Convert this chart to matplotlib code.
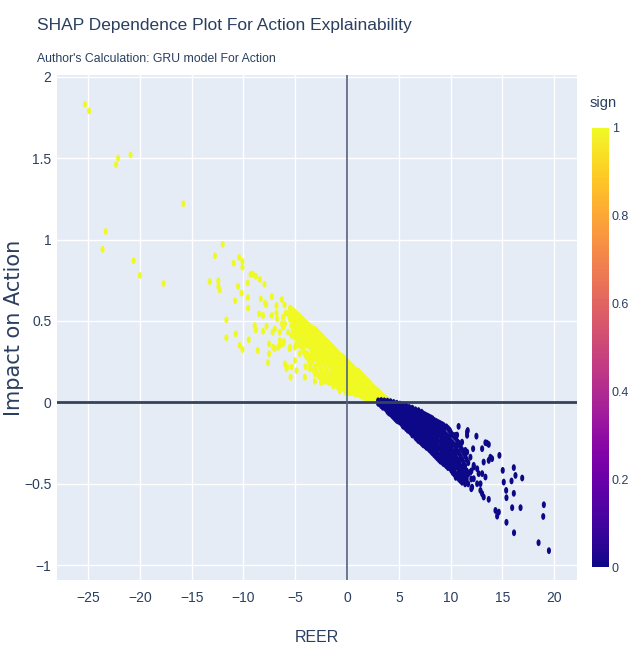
import numpy as np
import matplotlib.pyplot as plt
from matplotlib.path import Path
from matplotlib.transforms import Affine2D

plt.rcParams['font.family'] = ['Liberation Sans', 'DejaVu Sans']

# ---- data (REER, SHAP impact) ----
# sign = 1 (positive impact), far-left outliers
out_x = [-25.3, -24.9, -22.1, -22.3, -20.9, -15.8, -23.3, -23.6, -20.6, -20.0, -17.7]
out_y = [1.83, 1.79, 1.50, 1.46, 1.52, 1.22, 1.05, 0.94, 0.87, 0.78, 0.73]

# sign = 1, scattered middle cloud
mid_x = [-12.0, -12.75, -10.94, -10.41, -10.1, -10.1, -13.26, -12.42, -12.42, -12.29,
         -10.52, -10.19, -9.58, -10.81, -9.55, -9.32, -9.1, -8.81, -8.42, -9.58,
         -7.97, -8.33, -7.91, -7.81, -7.26, -6.81, -6.29, -6.03, -11.65, -8.49,
         -8.1, -7.26, -11.65, -10.75, -10.36, -10.1, -9.49, -8.91, -8.81, -8.1,
         -7.77, -7.19, -8.62, -7.52, -7.52, -7.62, -6.81, -6.75, -7.0, -6.49,
         -6.1, -6.29, -6.17, -5.9, -5.68, -6.0, -5.78, -5.45, -5.52, -5.35,
         -5.2, -5.03, -4.39, -4.55, -4.23, -3.9, -3.58, -4.07, -3.1, -2.61,
         -1.97, -1.16, -1.81, -1.0, -0.36, -4.55, -5.03, -5.35, -4.87, -5.84,
         -3.26, -2.78, -3.42, -3.9, -4.87, -4.39, -5.2, -5.68, -5.52, -5.03,
         -6.17, -6.65, -7.13, -6.49, -6.17, -6.0, -6.49, -6.97]
mid_y = [0.97, 0.90, 0.855, 0.89, 0.865, 0.83, 0.742, 0.747, 0.713, 0.691,
         0.713, 0.671, 0.644, 0.624, 0.579, 0.785, 0.788, 0.775, 0.755, 0.734,
         0.726, 0.636, 0.609, 0.599, 0.65, 0.595, 0.632, 0.599, 0.507, 0.544,
         0.534, 0.534, 0.397, 0.421, 0.35, 0.325, 0.385, 0.472, 0.446, 0.437,
         0.468, 0.431, 0.319, 0.36, 0.299, 0.244, 0.55, 0.514, 0.329, 0.35,
         0.374, 0.483, 0.462, 0.55, 0.544, 0.237, 0.217, 0.155, 0.329, 0.411,
         0.554, 0.472, 0.514, 0.423, 0.339, 0.278, 0.207, 0.155, 0.176, 0.237,
         0.258, 0.176, 0.125, 0.115, 0.094, 0.299, 0.258, 0.217, 0.196, 0.207,
         0.278, 0.339, 0.36, 0.40, 0.462, 0.431, 0.421, 0.431, 0.339, 0.339,
         0.36, 0.339, 0.339, 0.38, 0.523, 0.483, 0.431, 0.452]

# sign = 1, dense band near the origin (column REER value -> impacts)
core_pos_x = [-5.5, -5.35, -5.2, -5.05, -4.9, -4.75, -4.6, -4.45, -4.3, -4.15,
              -4.0, -3.85, -3.7, -3.55,
              -3.4, -3.1, -2.8, -2.5, -2.2, -1.9, -1.6, -1.3, -1.0, -0.7, -0.4, -0.1,
              0.2, 0.5, 0.8, 1.1, 1.4, 1.7, 2.0, 2.3, 2.6, 2.9, 3.2, 3.5, 3.8, 4.1,
              -3.25, -2.95, -2.65, -2.35, -2.05, -1.75, -1.45, -1.15, -0.85, -0.55,
              -0.25, 0.05, 0.35, 0.65, 0.95, 1.25, 1.55, 1.85, 2.15, 2.45, 2.75,
              3.05, 3.35, 3.65, 3.95]
core_pos_y = [[0.58, 0.55, 0.51],
              [0.57, 0.53, 0.47],
              [0.565, 0.53, 0.49, 0.44],
              [0.555, 0.52, 0.48, 0.40],
              [0.545, 0.51, 0.47, 0.43, 0.36],
              [0.535, 0.50, 0.45, 0.39],
              [0.53, 0.49, 0.46, 0.41, 0.35],
              [0.52, 0.48, 0.44, 0.37],
              [0.51, 0.475, 0.44, 0.40, 0.33],
              [0.50, 0.47, 0.43, 0.38, 0.31],
              [0.49, 0.46, 0.42, 0.37, 0.29, 0.22],
              [0.48, 0.45, 0.41, 0.35, 0.30],
              [0.475, 0.44, 0.40, 0.36, 0.26],
              [0.465, 0.43, 0.39, 0.34, 0.28, 0.23],
              [0.46, 0.43, 0.40, 0.35, 0.31, 0.25],
              [0.45, 0.42, 0.38, 0.34, 0.28, 0.22, 0.13],
              [0.43, 0.40, 0.37, 0.33, 0.30, 0.24, 0.17],
              [0.41, 0.38, 0.35, 0.31, 0.27, 0.20, 0.15, 0.12],
              [0.39, 0.36, 0.33, 0.30, 0.26, 0.23, 0.17, 0.13],
              [0.37, 0.34, 0.31, 0.28, 0.25, 0.19, 0.14],
              [0.35, 0.32, 0.29, 0.26, 0.22, 0.16, 0.12],
              [0.33, 0.30, 0.27, 0.24, 0.21, 0.18, 0.13, 0.10],
              [0.31, 0.28, 0.25, 0.22, 0.19, 0.15, 0.12],
              [0.29, 0.27, 0.24, 0.21, 0.18, 0.14, 0.10, 0.07],
              [0.28, 0.25, 0.22, 0.19, 0.16, 0.12, 0.09],
              [0.26, 0.23, 0.20, 0.17, 0.14, 0.11, 0.08, 0.06],
              [0.24, 0.21, 0.18, 0.15, 0.12, 0.09, 0.06],
              [0.22, 0.19, 0.17, 0.14, 0.11, 0.08, 0.06],
              [0.20, 0.18, 0.15, 0.12, 0.10, 0.07, 0.05],
              [0.19, 0.16, 0.13, 0.11, 0.08, 0.05],
              [0.17, 0.14, 0.12, 0.09, 0.07, 0.04],
              [0.15, 0.13, 0.10, 0.08, 0.05, 0.03],
              [0.13, 0.11, 0.09, 0.06, 0.04, 0.02],
              [0.11, 0.09, 0.07, 0.05, 0.03, 0.015],
              [0.09, 0.07, 0.05, 0.03, 0.015],
              [0.075, 0.055, 0.035, 0.015],
              [0.055, 0.04, 0.02, 0.005],
              [0.035, 0.02, 0.008],
              [0.02, 0.008],
              [0.01],
              [0.45, 0.41, 0.37, 0.32, 0.27, 0.20],
              [0.44, 0.40, 0.36, 0.31, 0.26, 0.19],
              [0.42, 0.39, 0.35, 0.32, 0.28, 0.22, 0.16],
              [0.40, 0.37, 0.34, 0.29, 0.25, 0.18],
              [0.38, 0.35, 0.32, 0.29, 0.24, 0.20, 0.15],
              [0.36, 0.33, 0.30, 0.27, 0.23, 0.17],
              [0.34, 0.31, 0.28, 0.25, 0.20, 0.15],
              [0.32, 0.29, 0.26, 0.23, 0.20, 0.16, 0.12],
              [0.30, 0.27, 0.24, 0.20, 0.17, 0.13, 0.09],
              [0.285, 0.26, 0.23, 0.20, 0.17, 0.13, 0.10],
              [0.27, 0.24, 0.21, 0.18, 0.15, 0.11, 0.08],
              [0.25, 0.22, 0.19, 0.16, 0.13, 0.10, 0.07],
              [0.23, 0.20, 0.17, 0.14, 0.11, 0.08, 0.06],
              [0.21, 0.18, 0.16, 0.13, 0.10, 0.07],
              [0.195, 0.17, 0.14, 0.11, 0.08, 0.06],
              [0.18, 0.15, 0.12, 0.10, 0.07, 0.045],
              [0.16, 0.135, 0.11, 0.085, 0.06, 0.035],
              [0.14, 0.12, 0.095, 0.07, 0.045, 0.025],
              [0.12, 0.10, 0.08, 0.055, 0.035, 0.02],
              [0.10, 0.08, 0.06, 0.04, 0.02],
              [0.08, 0.06, 0.04, 0.02],
              [0.065, 0.045, 0.025, 0.01],
              [0.045, 0.03, 0.012],
              [0.03, 0.012],
              [0.015]]

# sign = 0 (negative impact), dense band right of the origin
core_neg_x = [3.0, 3.3, 3.6, 3.9, 4.2, 4.5, 4.8, 5.1, 5.4, 5.7, 6.0, 6.3, 6.6, 6.9,
              7.2, 7.5, 7.8, 8.1, 8.4, 8.7, 9.0, 9.3, 9.6, 9.9, 10.2, 10.5, 10.8,
              11.1, 11.4, 11.7, 12.0,
              3.15, 3.45, 3.75, 4.05, 4.35, 4.65, 4.95, 5.25, 5.55, 5.85, 6.15,
              6.45, 6.75, 7.05, 7.35, 7.65, 7.95, 8.25, 8.55, 8.85, 9.15, 9.45,
              9.75, 10.05, 10.35, 10.65, 10.95, 11.25, 11.55]
core_neg_y = [[0.01, -0.005],
              [0.012, -0.005, -0.02],
              [0.01, -0.01, -0.03],
              [0.008, -0.015, -0.04, -0.055],
              [0.005, -0.02, -0.045, -0.07],
              [0.0, -0.025, -0.05, -0.075, -0.09],
              [-0.005, -0.03, -0.06, -0.085, -0.11],
              [-0.01, -0.035, -0.06, -0.09, -0.12],
              [-0.015, -0.04, -0.07, -0.10, -0.13, -0.145],
              [-0.02, -0.045, -0.075, -0.105, -0.135, -0.16],
              [-0.03, -0.055, -0.085, -0.115, -0.145, -0.175],
              [-0.035, -0.06, -0.09, -0.12, -0.15, -0.18, -0.2],
              [-0.045, -0.07, -0.10, -0.13, -0.16, -0.19, -0.215],
              [-0.05, -0.08, -0.11, -0.14, -0.17, -0.20, -0.235],
              [-0.06, -0.09, -0.12, -0.15, -0.18, -0.21, -0.25],
              [-0.075, -0.10, -0.13, -0.16, -0.19, -0.22, -0.265],
              [-0.085, -0.11, -0.14, -0.17, -0.20, -0.24, -0.28],
              [-0.095, -0.125, -0.155, -0.185, -0.22, -0.26, -0.30],
              [-0.11, -0.14, -0.17, -0.20, -0.24, -0.28, -0.32],
              [-0.12, -0.15, -0.18, -0.22, -0.26, -0.30, -0.34],
              [-0.13, -0.165, -0.20, -0.24, -0.28, -0.32, -0.36],
              [-0.14, -0.18, -0.22, -0.26, -0.30, -0.34, -0.375],
              [-0.15, -0.20, -0.24, -0.28, -0.32, -0.36, -0.39],
              [-0.17, -0.22, -0.27, -0.31, -0.35, -0.40],
              [-0.2, -0.25, -0.30, -0.35, -0.39, -0.43],
              [-0.22, -0.28, -0.33, -0.38, -0.44, -0.46],
              [-0.25, -0.31, -0.37, -0.42, -0.47],
              [-0.29, -0.35, -0.41, -0.46, -0.49],
              [-0.33, -0.39, -0.45, -0.5],
              [-0.37, -0.44, -0.50],
              [-0.42, -0.47, -0.53],
              [0.005, -0.01],
              [0.0, -0.015, -0.03],
              [0.0, -0.02, -0.04],
              [-0.005, -0.03, -0.05, -0.065],
              [-0.01, -0.035, -0.06, -0.08],
              [-0.015, -0.04, -0.065, -0.09, -0.10],
              [-0.02, -0.045, -0.075, -0.10, -0.115],
              [-0.025, -0.05, -0.08, -0.11, -0.13],
              [-0.03, -0.06, -0.09, -0.12, -0.15],
              [-0.035, -0.065, -0.095, -0.125, -0.155, -0.17],
              [-0.04, -0.07, -0.10, -0.13, -0.16, -0.185],
              [-0.05, -0.08, -0.11, -0.14, -0.17, -0.20],
              [-0.055, -0.09, -0.12, -0.15, -0.18, -0.21, -0.225],
              [-0.065, -0.10, -0.13, -0.16, -0.19, -0.22, -0.24],
              [-0.07, -0.105, -0.14, -0.17, -0.20, -0.23, -0.26],
              [-0.08, -0.12, -0.15, -0.18, -0.21, -0.25, -0.275],
              [-0.09, -0.13, -0.16, -0.20, -0.23, -0.26, -0.29],
              [-0.10, -0.14, -0.17, -0.21, -0.25, -0.29, -0.31],
              [-0.115, -0.15, -0.19, -0.23, -0.27, -0.31, -0.33],
              [-0.125, -0.16, -0.20, -0.24, -0.28, -0.32, -0.35],
              [-0.135, -0.17, -0.21, -0.25, -0.29, -0.33, -0.365],
              [-0.15, -0.19, -0.23, -0.27, -0.31, -0.35, -0.38],
              [-0.16, -0.21, -0.25, -0.29, -0.34, -0.38, -0.40],
              [-0.19, -0.24, -0.28, -0.33, -0.37, -0.415],
              [-0.21, -0.26, -0.31, -0.36, -0.41, -0.44],
              [-0.24, -0.30, -0.35, -0.40, -0.45],
              [-0.27, -0.33, -0.39, -0.44, -0.48],
              [-0.31, -0.37, -0.43, -0.48],
              [-0.35, -0.42, -0.47]]

# sign = 0, scattered tail
tail_x = [10.77, 11.59, 12.49, 13.52, 13.68, 13.04, 12.17, 14.71, 13.84, 13.68,
          13.19, 15.03, 16.1, 16.26, 16.91, 15.88, 15.13, 15.36, 16.1, 15.39,
          13.68, 15.94, 16.75, 14.33, 14.65, 14.49, 15.39, 16.12, 19.0, 18.94,
          18.49, 19.49, 8.84, 9.32, 10.45, 11.1, 10.62, 10.94, 11.42, 10.29,
          11.91, 12.23, 12.56, 11.59, 13.04, 13.36, 12.88, 13.04, 13.19, 12.07,
          11.65, 11.59, 13.36, 14.0, 9.65, 10.29, 10.94, 11.26, 11.91, 12.23,
          12.56, 12.88, 12.23, 12.71, 11.59, 10.62, 9.97]
tail_y = [-0.147, -0.182, -0.207, -0.25, -0.258, -0.284, -0.284, -0.325, -0.336, -0.356,
          -0.366, -0.417, -0.40, -0.448, -0.464, -0.482, -0.489, -0.54, -0.558, -0.585,
          -0.595, -0.646, -0.646, -0.663, -0.673, -0.698, -0.736, -0.80, -0.628, -0.70,
          -0.861, -0.91, -0.161, -0.172, -0.202, -0.244, -0.264, -0.274, -0.294, -0.305,
          -0.336, -0.397, -0.407, -0.428, -0.437, -0.458, -0.499, -0.56, -0.581, -0.52,
          -0.172, -0.202, -0.247, -0.345, -0.264, -0.325, -0.345, -0.397, -0.428, -0.468,
          -0.499, -0.54, -0.386, -0.437, -0.305, -0.2, -0.18]

cbar_ticks = [0, 0.2, 0.4, 0.6, 0.8, 1]
x_ticks = [-25, -20, -15, -10, -5, 0, 5, 10, 15, 20]
y_ticks = [-1, -0.5, 0, 0.5, 1, 1.5, 2]
y_labels = ['\u22121', '\u22120.5', '0', '0.5', '1', '1.5', '2']

# ---- assemble ----
pos_x, pos_y = list(out_x) + list(mid_x), list(out_y) + list(mid_y)
for cx, ys in zip(core_pos_x, core_pos_y):
    pos_x += [cx] * len(ys)
    pos_y += ys
neg_x, neg_y = [], []
for cx, ys in zip(core_neg_x, core_neg_y):
    neg_x += [cx] * len(ys)
    neg_y += ys
neg_x += tail_x
neg_y += tail_y

reer = np.array(pos_x + neg_x)
impact = np.array(pos_y + neg_y)
sign = np.array([1] * len(pos_x) + [0] * len(neg_x))

txt = '#2a3f5f'
W, H = 630, 659
fig = plt.figure(figsize=(W / 100, H / 100), dpi=100)
ax = fig.add_axes([57 / W, 1 - 580 / H, 520 / W, 505 / H])
ax.set_facecolor('#E5ECF6')
for s in ax.spines.values():
    s.set_visible(False)
ax.grid(color='white', lw=1.0)
ax.set_axisbelow(True)

ell = Path.unit_circle().transformed(Affine2D().scale(0.6, 1.0))
sc = ax.scatter(reer, impact, c=sign, cmap='plasma', vmin=0, vmax=1,
                marker=ell, s=24, linewidths=0, zorder=2)

ax.axhline(0, color='#33435a', lw=2.0, zorder=3)
ax.axvline(0, color='#51627a', lw=1.2, zorder=3)

ax.set_xlim(-28.0, 22.2)
ax.set_ylim(-1.09, 2.01)
ax.set_xticks(x_ticks)
ax.set_xticklabels([str(t).replace('-', '\u2212') for t in x_ticks])
ax.set_yticks(y_ticks)
ax.set_yticklabels(y_labels)
ax.tick_params(length=0, colors=txt, labelsize=10)
ax.tick_params(axis='x', pad=8)
ax.tick_params(axis='y', pad=4)

fig.text(37 / W, 1 - 30 / H, 'SHAP Dependence Plot For Action Explainability',
         fontsize=12.5, color=txt, va='baseline')
fig.text(37 / W, 1 - 62 / H, "Author's Calculation: GRU model For Action",
         fontsize=8.8, color=txt, va='baseline')
fig.text(317 / W, 1 - 637 / H, 'REER', fontsize=11.5, color=txt,
         ha='center', va='center')
fig.text(14 / W, 1 - 328 / H, 'Impact on Action', fontsize=15, color=txt,
         rotation=90, ha='center', va='center', family=['DejaVu Sans'])

cax = fig.add_axes([592 / W, 1 - 567 / H, 17 / W, 439 / H])
cb = fig.colorbar(sc, cax=cax, ticks=cbar_ticks)
cb.outline.set_visible(False)
cb.ax.tick_params(length=0, colors=txt, labelsize=9, pad=2)
cb.ax.set_yticklabels([f'{t:g}' for t in cbar_ticks])
fig.text(590 / W, 1 - 103 / H, 'sign', fontsize=10.5, color=txt, va='center')

fig.savefig('out.png', dpi=100)
